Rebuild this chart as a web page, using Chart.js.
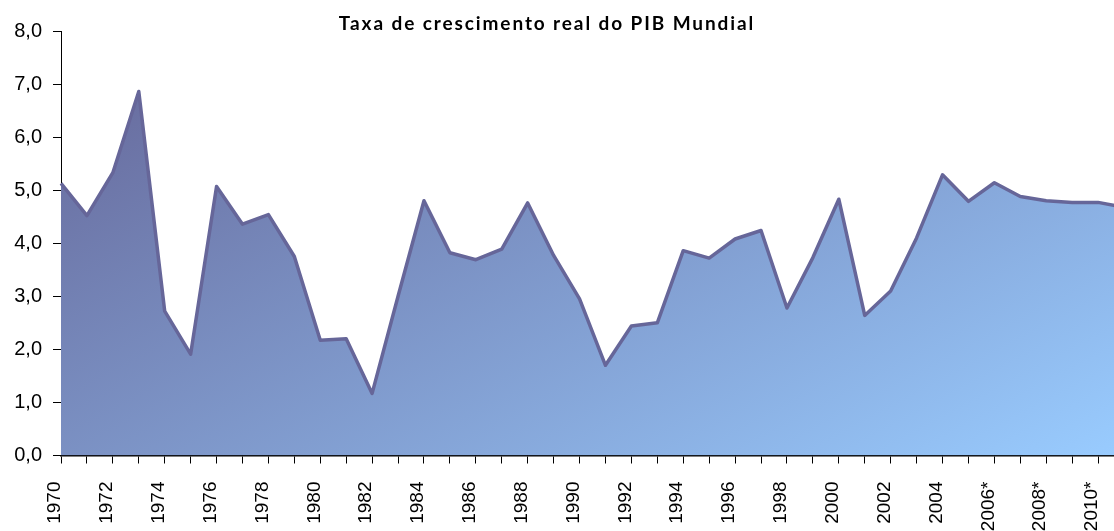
<!DOCTYPE html>
<html>
<head>
<meta charset="utf-8">
<script src="https://cdn.jsdelivr.net/npm/chart.js@4.4.1/dist/chart.umd.min.js"></script>
<style>
  html, body { margin: 0; padding: 0; background: #fff; overflow: hidden; }
  #wrap { position: relative; width: 1114px; height: 531px; overflow: hidden; }
  #pib { position: absolute; left: 0; top: 0; }
  #titulo {
    position: absolute; left: 0; width: 1094px; top: 11px; text-align: center;
    font: bold 19px Lato, sans-serif; letter-spacing: 1.9px; color: #000;
  }
</style>
</head>
<body>
<div id="wrap">
  <canvas id="pib" width="1126" height="531"></canvas>
  <div id="titulo">Taxa de crescimento real do PIB Mundial</div>
</div>
<script>
    // Dados: taxa de crescimento real do PIB mundial (%)
    const anos = ['1970', '1971', '1972', '1973', '1974', '1975', '1976', '1977', '1978', '1979',
                  '1980', '1981', '1982', '1983', '1984', '1985', '1986', '1987', '1988', '1989',
                  '1990', '1991', '1992', '1993', '1994', '1995', '1996', '1997', '1998', '1999',
                  '2000', '2001', '2002', '2003', '2004', '2005', '2006*', '2007*', '2008*', '2009*',
                  '2010*', '2011*'];
    const crescimento = [5.13, 4.52, 5.33, 6.86, 2.72, 1.91, 5.07, 4.36, 4.54, 3.75,
                         2.17, 2.20, 1.17, 3.00, 4.80, 3.82, 3.69, 3.89, 4.76, 3.77,
                         2.95, 1.70, 2.44, 2.50, 3.86, 3.72, 4.08, 4.24, 2.78, 3.73,
                         4.83, 2.64, 3.10, 4.10, 5.29, 4.79, 5.14, 4.88, 4.80, 4.77,
                         4.77, 4.68];
    const yTicks = [0, 1, 2, 3, 4, 5, 6, 7, 8];

    // Degradê do preenchimento (roxo no canto superior esquerdo, azul claro no inferior direito)
    function gradiente(context) {
        const chart = context.chart;
        const area = chart.chartArea;
        if (!area) return '#7f9fd6';
        const w = area.right - area.left;
        const h = area.bottom - area.top;
        const kx = 0.57 / w, ky = 0.43 / h;
        const n = kx * kx + ky * ky;
        const g = chart.ctx.createLinearGradient(area.left, area.top,
            area.left + kx / n, area.top + ky / n);
        g.addColorStop(0, '#646496');
        g.addColorStop(1, '#99ccff');
        return g;
    }

    const ctx = document.getElementById('pib').getContext('2d');
    new Chart(ctx, {
        type: 'line',
        data: {
            labels: anos,
            datasets: [{
                data: crescimento,
                borderColor: '#666699',
                borderWidth: 3.5,
                backgroundColor: gradiente,
                fill: 'origin',
                tension: 0,
                pointRadius: 0,
                borderJoinStyle: 'round'
            }]
        },
        options: {
            responsive: false,
            animation: false,
            layout: { padding: { top: 31, right: 2, left: 0, bottom: 0 } },
            plugins: {
                legend: { display: false },
                tooltip: { enabled: false }
            },
            scales: {
                x: {
                    offset: false,
                    afterFit: function(scale) {
                        scale.height = 75.5;
                        scale.paddingLeft = 0;
                        scale.paddingRight = 0;
                    },
                    grid: {
                        drawOnChartArea: false,
                        drawTicks: true,
                        tickLength: 8,
                        color: '#000'
                    },
                    border: { display: true, color: '#000', width: 1.5 },
                    ticks: {
                        autoSkip: false,
                        maxRotation: 90,
                        minRotation: 90,
                        labelOffset: -6,
                        padding: 18,
                        color: '#000',
                        font: { family: 'Liberation Sans, Arial', size: 19 },
                        callback: function(value, index) {
                            return index % 2 === 0 ? anos[index] : '';
                        }
                    }
                },
                y: {
                    min: yTicks[0],
                    max: yTicks[yTicks.length - 1],
                    afterFit: function(scale) { scale.width = 61; },
                    afterBuildTicks: function(scale) {
                        scale.ticks = yTicks.map(v => ({ value: v }));
                    },
                    grid: {
                        drawOnChartArea: false,
                        drawTicks: true,
                        tickLength: 8,
                        color: '#000'
                    },
                    border: { display: true, color: '#000', width: 1 },
                    ticks: {
                        padding: 11,
                        color: '#000',
                        font: { family: 'Liberation Sans, Arial', size: 20 },
                        callback: function(value) {
                            return value.toFixed(1).replace('.', ',');
                        }
                    }
                }
            }
        }
    });
</script>
</body>
</html>
